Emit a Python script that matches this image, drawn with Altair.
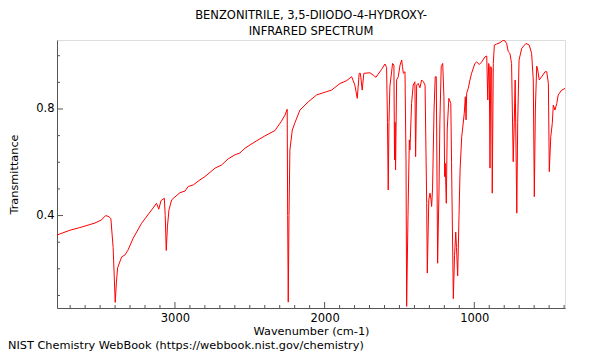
import altair as alt
import pandas as pd

TITLE_LINES = ["BENZONITRILE, 3,5-DIIODO-4-HYDROXY-", "INFRARED SPECTRUM"]
CREDIT = "NIST Chemistry WebBook (https://webbook.nist.gov/chemistry)"
X_TITLE = "Wavenumber (cm-1)"
Y_TITLE = "Transmittance"

wavenumber = [
    3788, 3701, 3635, 3534, 3490, 3463, 3441, 3428, 3413, 3399, 3391, 3383, 3356, 3334, 3314,
    3279, 3223, 3156, 3123, 3108, 3093, 3071, 3065, 3058, 3050, 3040, 3022, 3000, 2966, 2933,
    2911, 2878, 2833, 2800, 2732, 2688, 2644, 2599, 2566, 2532, 2465, 2399, 2332, 2291, 2265,
    2250, 2247, 2243, 2238, 2232, 2216, 2198, 2165, 2109, 2053, 1987, 1953, 1897, 1857, 1819,
    1798, 1782, 1769, 1761, 1749, 1738, 1697, 1675, 1657, 1619, 1597, 1586, 1580, 1575, 1570,
    1564, 1546, 1537, 1533, 1529, 1526, 1519, 1508, 1496, 1485, 1480, 1474, 1463, 1456, 1452,
    1443, 1434, 1430, 1419, 1408, 1397, 1392, 1385, 1375, 1363, 1352, 1340, 1329, 1318, 1314,
    1304, 1296, 1289, 1285, 1279, 1269, 1261, 1254, 1245, 1241, 1236, 1230, 1221, 1211, 1203,
    1198, 1194, 1187, 1181, 1170, 1157, 1152, 1140, 1132, 1124, 1119, 1111, 1102, 1095, 1084,
    1067, 1060, 1055, 1051, 1040, 1029, 1018, 996, 984, 967, 950, 928, 917, 910, 904,
    900, 895, 890, 884, 880, 873, 866, 850, 828, 810, 795, 784, 773, 762, 751,
    740, 733, 727, 716, 710, 701, 683, 655, 633, 617, 606, 599, 592, 583, 577,
    566, 550, 527, 516, 505, 499, 489, 479, 472, 461, 449, 439, 416, 394,
]
transmittance = [
    0.327, 0.345, 0.355, 0.372, 0.384, 0.400, 0.396, 0.388, 0.280, 0.074, 0.150, 0.204, 0.245, 0.252, 0.270,
    0.315, 0.371, 0.421, 0.446, 0.424, 0.456, 0.465, 0.400, 0.269, 0.360, 0.421, 0.459, 0.470, 0.486, 0.492,
    0.509, 0.515, 0.534, 0.546, 0.578, 0.590, 0.613, 0.628, 0.635, 0.653, 0.677, 0.699, 0.719, 0.752, 0.777,
    0.799, 0.400, 0.075, 0.400, 0.646, 0.721, 0.749, 0.796, 0.827, 0.853, 0.865, 0.871, 0.896, 0.905, 0.921,
    0.890, 0.840, 0.934, 0.934, 0.871, 0.934, 0.936, 0.927, 0.919, 0.949, 0.969, 0.956, 0.750, 0.496, 0.750,
    0.884, 0.971, 0.965, 0.609, 0.750, 0.571, 0.909, 0.921, 0.965, 0.984, 0.960, 0.934, 0.940, 0.597, 0.059,
    0.400, 0.684, 0.646, 0.821, 0.890, 0.902, 0.621, 0.890, 0.896, 0.880, 0.909, 0.902, 0.890, 0.446, 0.184,
    0.459, 0.484, 0.459, 0.434, 0.500, 0.796, 0.921, 0.921, 0.221, 0.346, 0.484, 0.750, 0.959, 0.971, 0.846,
    0.546, 0.596, 0.446, 0.721, 0.840, 0.821, 0.600, 0.088, 0.250, 0.338, 0.280, 0.174, 0.400, 0.571, 0.696,
    0.784, 0.846, 0.759, 0.859, 0.878, 0.909, 0.934, 0.971, 0.977, 0.967, 0.977, 0.996, 0.999, 0.834, 0.971,
    0.960, 0.578, 0.959, 0.950, 0.484, 0.971, 1.040, 1.044, 1.049, 1.057, 1.056, 1.046, 1.015, 1.009, 0.971,
    0.602, 0.750, 0.909, 0.409, 0.750, 0.984, 1.028, 1.046, 1.040, 1.009, 0.909, 0.471, 0.800, 0.961, 0.950,
    0.909, 0.921, 0.940, 0.940, 0.896, 0.565, 0.696, 0.746, 0.815, 0.796, 0.821, 0.853, 0.871, 0.877,
]

x_major_ticks = [1000, 2000, 3000]
x_minor_ticks = [3700, 3600, 3500, 3400, 3300, 3200, 3100, 2900, 2800, 2700, 2600, 2500, 2400,
                 2300, 2200, 2100, 1900, 1800, 1700, 1600, 1500, 1400, 1300, 1200, 1100,
                 900, 800, 700, 600, 500, 400]
y_major_ticks = [0.4, 0.8]
y_minor_ticks = [0.1, 0.2, 0.3, 0.5, 0.6, 0.7, 0.9, 1.0]

X_DOMAIN = [394, 3788]
Y_DOMAIN = [0.053, 1.059]
W, H = 508, 268
FONT = "DejaVu Sans"
AXIS_COLOR = "#555555"
TXT = 11.3

spec = pd.DataFrame({"wn": wavenumber, "t": transmittance})

xs = alt.Scale(domain=X_DOMAIN, reverse=True, nice=False, zero=False)
ys = alt.Scale(domain=Y_DOMAIN, nice=False, zero=False)

x_axis = alt.Axis(values=x_major_ticks, format="d", tickSize=0, grid=False,
                  labelPadding=4, titlePadding=2, domainColor=AXIS_COLOR,
                  labelFontSize=11.5, titleFontSize=TXT, labelFont=FONT, titleFont=FONT,
                  titleFontWeight="normal", labelColor="black", titleColor="black")
y_axis = alt.Axis(values=y_major_ticks, format=".1f", tickSize=0, grid=False,
                  labelPadding=3, titlePadding=16, domainColor=AXIS_COLOR,
                  labelFontSize=11.5, titleFontSize=TXT, labelFont=FONT, titleFont=FONT,
                  titleFontWeight="normal", labelColor="black", titleColor="black")

line = alt.Chart(spec).mark_line(color="#ff0000", strokeWidth=1, clip=True).encode(
    x=alt.X("wn:Q", scale=xs, title=X_TITLE, axis=x_axis),
    y=alt.Y("t:Q", scale=ys, title=Y_TITLE, axis=y_axis),
)

xmaj = alt.Chart(pd.DataFrame({"wn": x_major_ticks})).mark_rule(color=AXIS_COLOR, strokeWidth=1).encode(
    x=alt.X("wn:Q", scale=xs, title=X_TITLE, axis=x_axis), y=alt.value(H), y2=alt.value(H - 6))
xmin = alt.Chart(pd.DataFrame({"wn": x_minor_ticks})).mark_rule(color=AXIS_COLOR, strokeWidth=1).encode(
    x=alt.X("wn:Q", scale=xs, title=X_TITLE, axis=x_axis), y=alt.value(H), y2=alt.value(H - 3))
ymaj = alt.Chart(pd.DataFrame({"t": y_major_ticks})).mark_rule(color=AXIS_COLOR, strokeWidth=1).encode(
    y=alt.Y("t:Q", scale=ys, title=Y_TITLE, axis=y_axis), x=alt.value(0), x2=alt.value(6))
ymin = alt.Chart(pd.DataFrame({"t": y_minor_ticks})).mark_rule(color=AXIS_COLOR, strokeWidth=1).encode(
    y=alt.Y("t:Q", scale=ys, title=Y_TITLE, axis=y_axis), x=alt.value(0), x2=alt.value(3))

credit = alt.Chart(pd.DataFrame({"label": [CREDIT]})).mark_text(
    align="left", baseline="alphabetic", font=FONT, fontSize=TXT, color="black").encode(
    text="label:N", x=alt.value(-49), y=alt.value(309))

chart = alt.layer(line, xmaj, xmin, ymaj, ymin, credit).properties(
    width=W, height=H,
    title=alt.TitleParams(text=TITLE_LINES, font=FONT, fontSize=11.5, fontWeight="normal",
                          anchor="middle", offset=3, lineHeight=16, color="black"),
    autosize=alt.AutoSizeParams(type="none"),
    padding={"left": 49, "top": 32, "right": 27, "bottom": 44},
).configure_view(stroke=AXIS_COLOR, strokeWidth=1).configure(background="white")

chart.save("out.html", embed_options={"renderer": "svg", "actions": False})
